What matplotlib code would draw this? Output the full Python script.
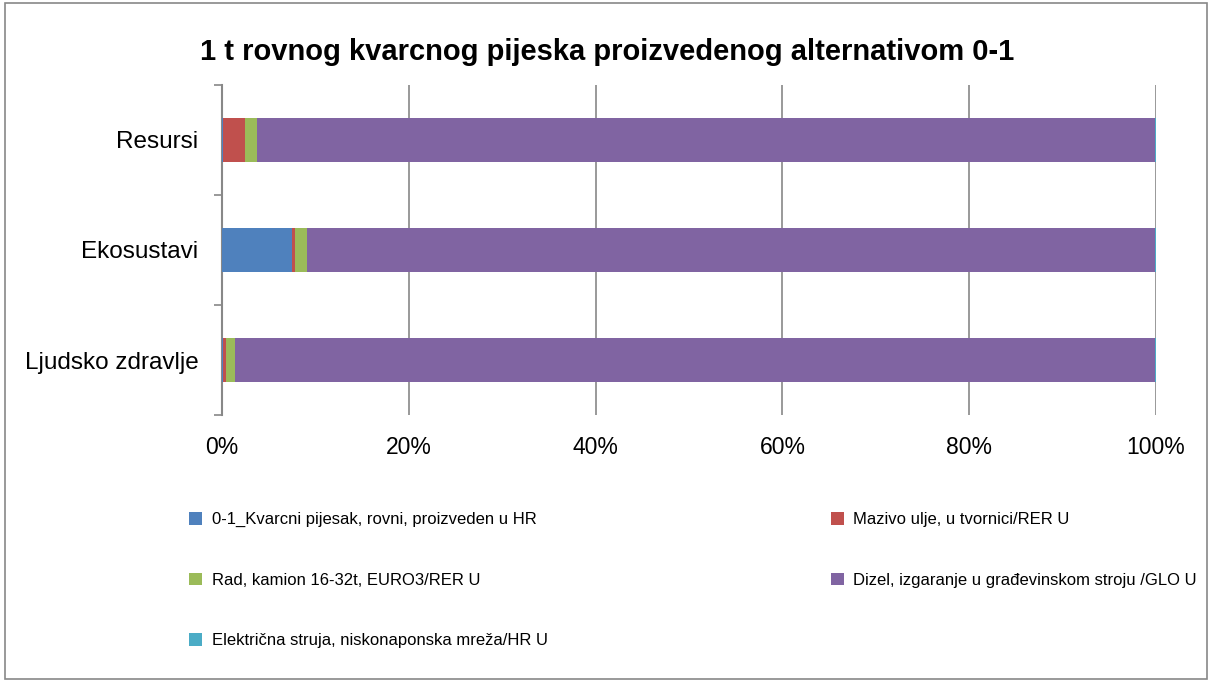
import matplotlib.pyplot as plt
import numpy as np
from matplotlib.patches import Rectangle

plt.rcParams['font.family'] = ['Liberation Sans', 'DejaVu Sans']

categories = ['Ljudsko zdravlje', 'Ekosustavi', 'Resursi']
series_names = [
    '0-1_Kvarcni pijesak, rovni, proizveden u HR',
    'Mazivo ulje, u tvornici/RER U',
    'Rad, kamion 16-32t, EURO3/RER U',
    'Dizel, izgaranje u građevinskom stroju /GLO U',
    'Električna struja, niskonaponska mreža/HR U',
]
colors = ['#4F81BD', '#C0504D', '#9BBB59', '#8064A2', '#4BACC6']
# percentages per category (Ljudsko zdravlje, Ekosustavi, Resursi)
kvarc = [0.1, 7.5, 0.1]
mazivo = [0.3, 0.3, 2.4]
kamion = [1.0, 1.3, 1.3]
struja = [0.1, 0.1, 0.1]
dizel = [100 - a - b - c - d for a, b, c, d in zip(kvarc, mazivo, kamion, struja)]
values = [kvarc, mazivo, kamion, dizel, struja]

fig = plt.figure(figsize=(12.14, 6.82), dpi=100)
ax = fig.add_axes([222/1214, 1 - 415/682, (1156-222)/1214, (415-85)/682])

y = np.arange(len(categories))
left = np.zeros(len(categories))
for name, vals, c in zip(series_names, values, colors):
    ax.barh(y, vals, left=left, height=0.4, color=c, label=name, zorder=3)
    left += np.array(vals)

ax.set_xlim(0, 100)
ax.set_ylim(-0.5, 2.5)
ax.set_xticks([0, 20, 40, 60, 80, 100])
ax.set_xticklabels(['0%', '20%', '40%', '60%', '80%', '100%'], fontsize=16.5)
ax.set_yticks(y)
ax.set_yticklabels(categories, fontsize=17.5)
ax.set_yticks([-0.5, 0.5, 1.5, 2.5], minor=True)
ax.tick_params(axis='y', which='major', length=0, pad=17)
ax.tick_params(axis='y', which='minor', length=6, color='#888888', width=1.2)
ax.tick_params(axis='x', length=0, pad=15)
ax.grid(axis='x', color='#888888', linewidth=1.2, zorder=0)
for s in ['top', 'right', 'bottom']:
    ax.spines[s].set_visible(False)
ax.spines['left'].set_color('#888888')
ax.spines['left'].set_linewidth(1.5)

fig.text(0.5, 1 - 52/682, '1 t rovnog kvarcnog pijeska proizvedenog alternativom 0-1',
         ha='center', va='center', fontsize=21, fontweight='bold')

handles, labels = ax.get_legend_handles_labels()
order = [0, 2, 4, 1, 3]
leg = fig.legend([handles[i] for i in order], [labels[i] for i in order],
                 loc='upper left', bbox_to_anchor=(189/1214, 1 - 512/682), ncol=2,
                 frameon=False, fontsize=12, handlelength=0.8, handleheight=0.8,
                 handletextpad=0.55, columnspacing=17.0, labelspacing=2.72,
                 borderaxespad=0, borderpad=0)

fig.patches.append(Rectangle((0.004, 0.005), 0.99, 0.99, transform=fig.transFigure,
                             fill=False, edgecolor='#888888', linewidth=1.2))

fig.savefig('out.png', dpi=100)
